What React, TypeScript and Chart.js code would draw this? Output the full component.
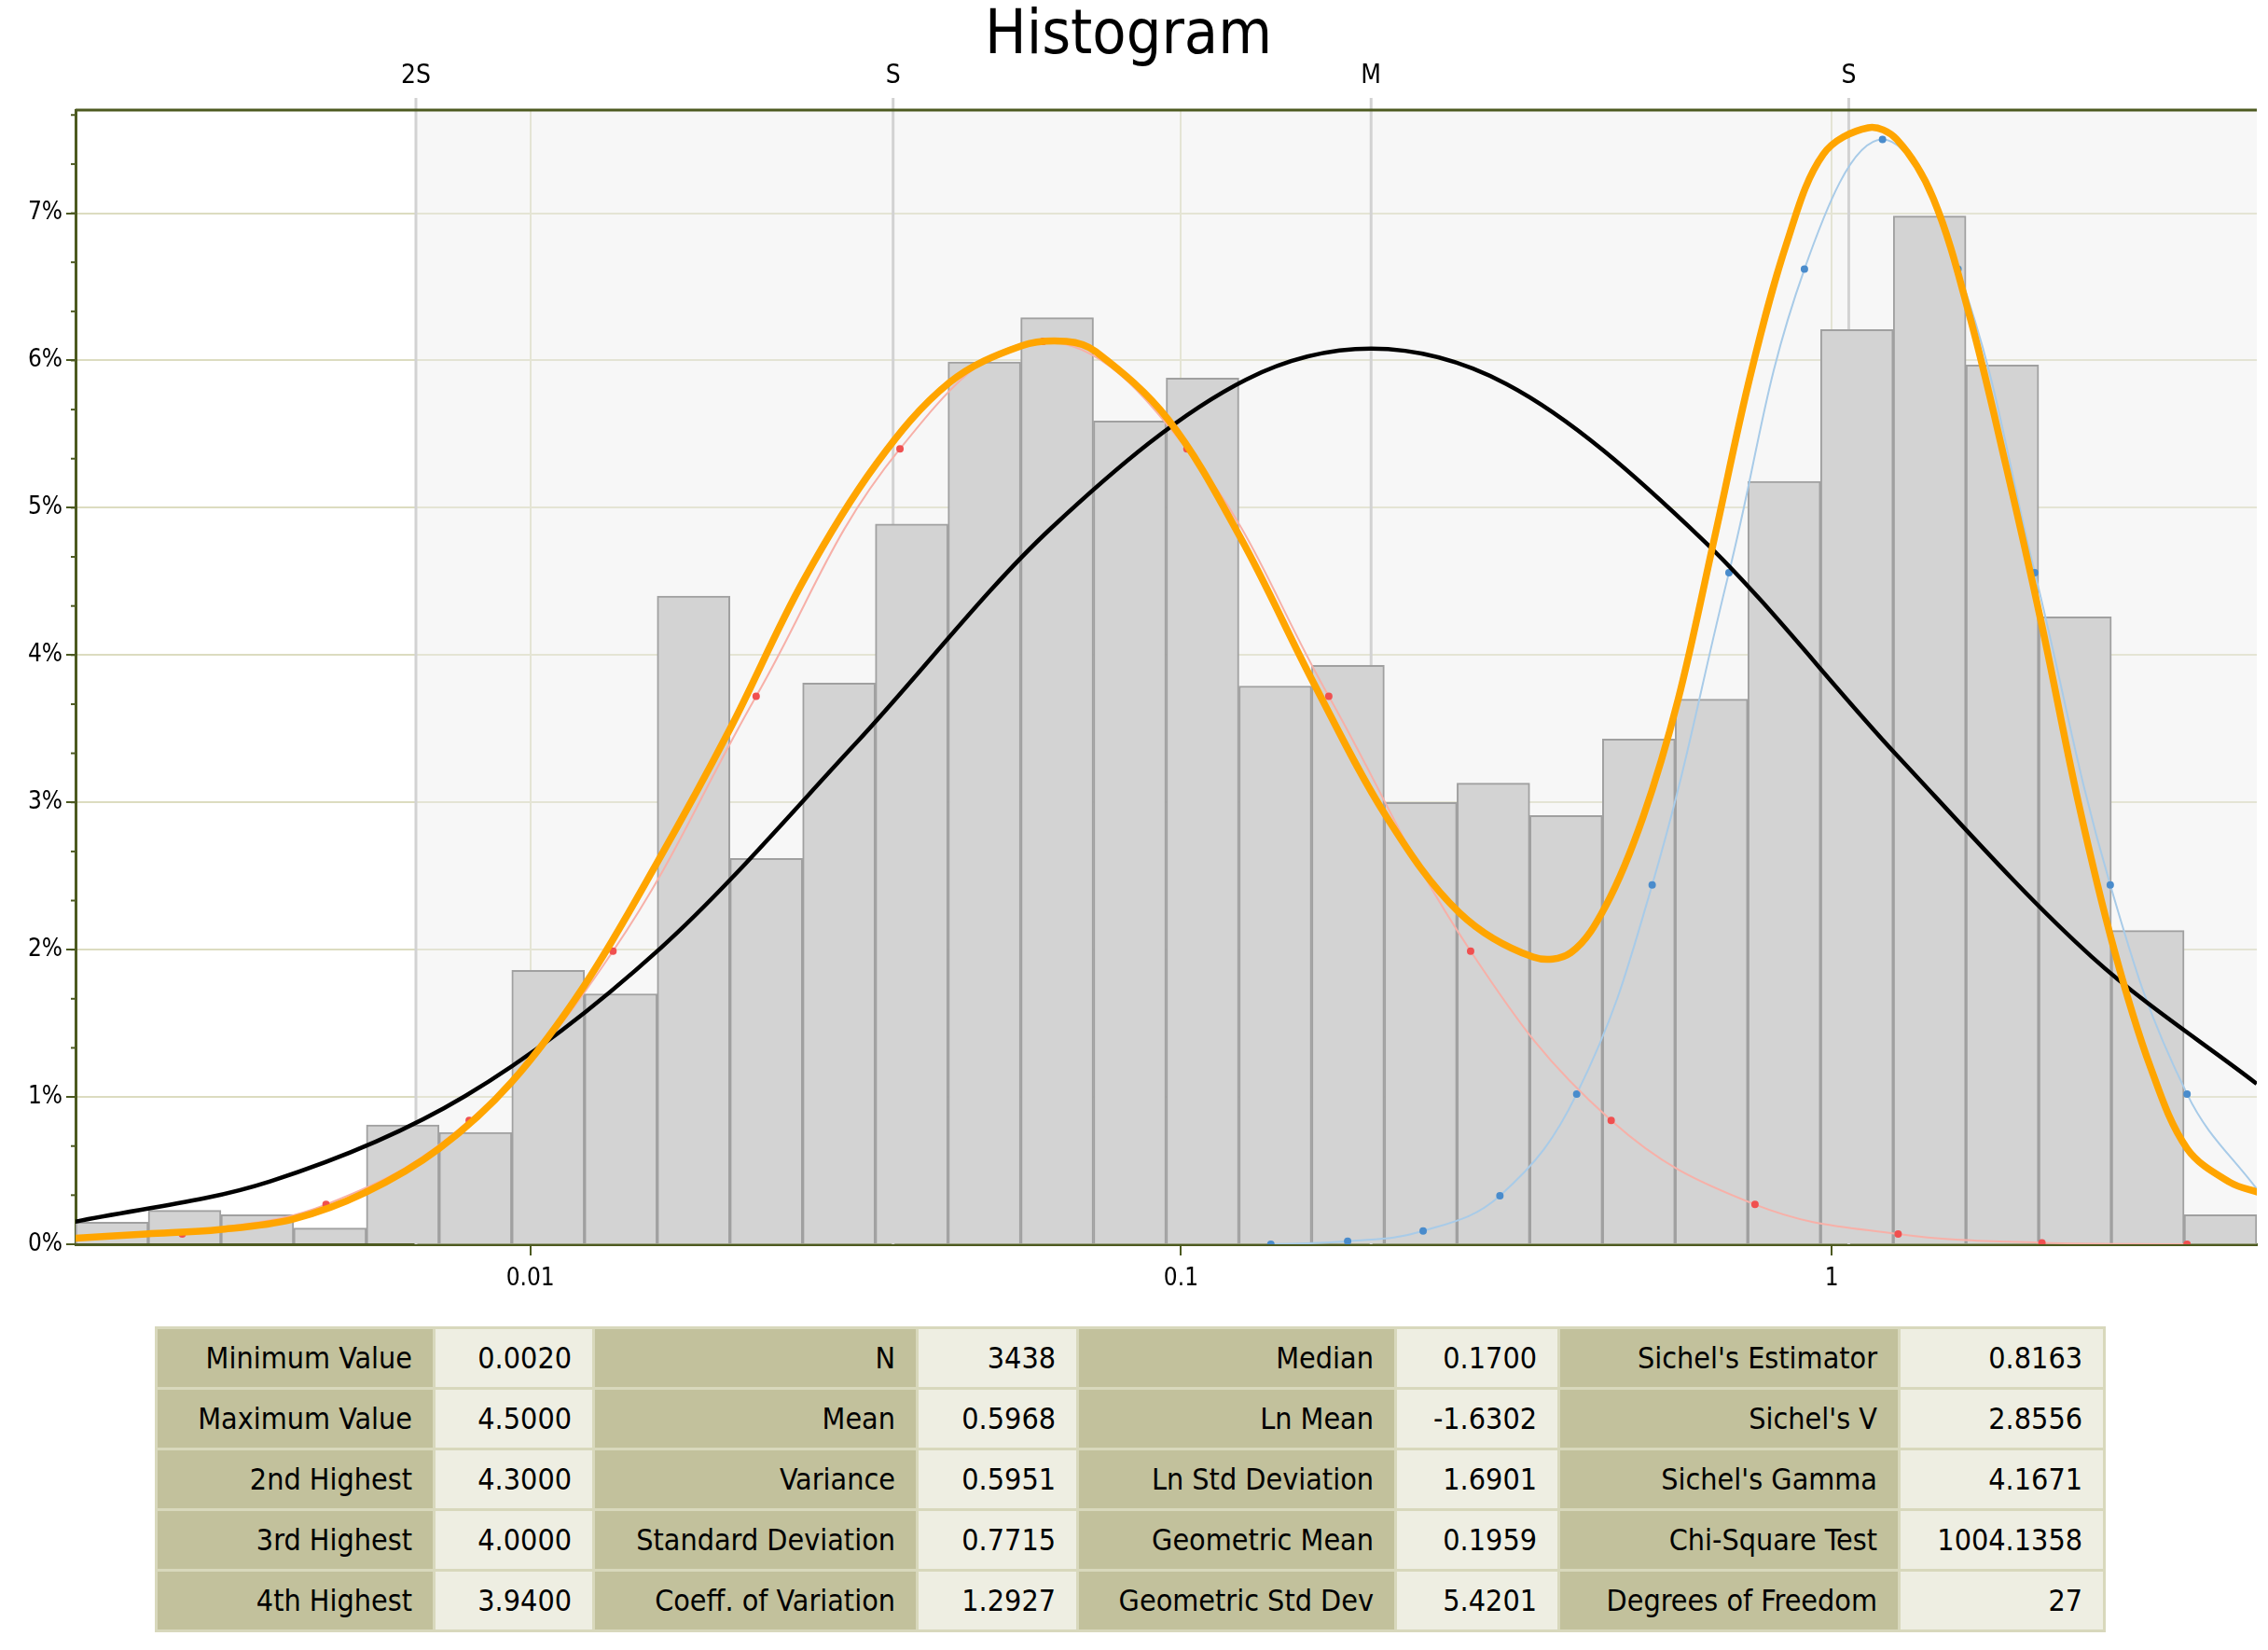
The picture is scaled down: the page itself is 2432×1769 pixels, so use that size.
import React, { useEffect, useRef } from "react";
import { Chart, registerables } from "chart.js";
Chart.register(...registerables);

const FONT = "'DejaVu Sans Condensed', 'DejaVu Sans', sans-serif";

// Histogram bins (equal width in log space), percent
const binValues = [0.15, 0.23, 0.2, 0.11, 0.81, 0.76, 1.86, 1.7, 4.4, 2.62, 3.81, 4.89, 5.99, 6.29, 5.59, 5.88, 3.79, 3.93, 3.0, 3.13, 2.91, 3.43, 3.7, 5.18, 6.21, 6.98, 5.97, 4.26, 2.13, 0.2];
const binLabels = binValues.map((_, i) => "b" + i);

// Lognormal fit (black), x as log10
const blackLog = [-2.7, -2.4, -2.1, -1.8, -1.5, -1.2, -0.9, -0.708, -0.5, -0.2, 0.1, 0.4, 0.653];
const blackVal = [0.153, 0.427, 1.007, 2.01, 3.4, 4.86, 5.87, 6.08, 5.84, 4.79, 3.32, 1.95, 1.09];

// Mixture fit (orange)
const orangeLog = [-2.702, -2.59, -2.477, -2.365, -2.254, -2.14, -2.029, -1.918, -1.804, -1.693, -1.581, -1.468, -1.356, -1.245, -1.176, -1.131, -1.02, -0.909, -0.795, -0.684, -0.572, -0.459, -0.401, -0.347, -0.29, -0.236, -0.18, -0.125, -0.069, -0.013, 0.056, 0.1, 0.156, 0.212, 0.267, 0.323, 0.379, 0.434, 0.49, 0.546, 0.612, 0.657];
const orangeVal = [0.04, 0.07, 0.1, 0.17, 0.35, 0.65, 1.1, 1.75, 2.6, 3.5, 4.5, 5.3, 5.85, 6.1, 6.13, 6.06, 5.6, 4.8, 3.8, 2.9, 2.25, 1.95, 1.98, 2.3, 2.9, 3.7, 4.8, 5.9, 6.8, 7.4, 7.58, 7.5, 7.1, 6.3, 5.3, 4.2, 3.0, 2.0, 1.2, 0.65, 0.42, 0.35];

// Component 1 (red)
const redLog = [-2.535, -2.314, -2.094, -1.873, -1.653, -1.432, -1.212, -0.991, -0.773, -0.555, -0.339, -0.118, 0.102, 0.323, 0.546];
const redVal = [0.07, 0.27, 0.84, 1.99, 3.72, 5.4, 6.13, 5.4, 3.72, 1.99, 0.84, 0.27, 0.07, 0.01, 0.0];

// Component 2 (blue)
const blueLog = [-0.862, -0.744, -0.628, -0.51, -0.392, -0.276, -0.158, -0.042, 0.078, 0.194, 0.312, 0.428, 0.546, 0.661];
const blueVal = [0.0, 0.02, 0.09, 0.33, 1.02, 2.44, 4.56, 6.62, 7.5, 6.62, 4.56, 2.44, 1.02, 0.33];

const xTicks = [0.01, 0.1, 1];
const topTickValues = [0.00667, 0.0361, 0.1959, 1.062];
const topTickLabels = ["2S", "S", "M", "S"];

const tableRows = [
  ["Minimum Value", "0.0020", "N", "3438", "Median", "0.1700", "Sichel's Estimator", "0.8163"],
  ["Maximum Value", "4.5000", "Mean", "0.5968", "Ln Mean", "-1.6302", "Sichel's V", "2.8556"],
  ["2nd Highest", "4.3000", "Variance", "0.5951", "Ln Std Deviation", "1.6901", "Sichel's Gamma", "4.1671"],
  ["3rd Highest", "4.0000", "Standard Deviation", "0.7715", "Geometric Mean", "0.1959", "Chi-Square Test", "1004.1358"],
  ["4th Highest", "3.9400", "Coeff. of Variation", "1.2927", "Geometric Std Dev", "5.4201", "Degrees of Freedom", "27"],
];
const colWidths = [298, 171, 347, 172, 341, 175, 365, 220];

const pts = (lx: number[], v: number[]) => lx.map((l, i) => ({ x: Math.pow(10, l), y: v[i] }));

const overlay = {
  id: "overlay",
  beforeDatasetsDraw(chart: any) {
    const { ctx, chartArea: a, scales } = chart;
    const x = scales.x;
    ctx.save();
    const sx = x.getPixelForValue(topTickValues[0]);
    ctx.fillStyle = "rgba(238,238,238,0.45)";
    ctx.fillRect(sx, a.top, a.right - sx, a.bottom - a.top);
    ctx.strokeStyle = "#d2d2d2";
    ctx.lineWidth = 3;
    topTickValues.forEach((v) => {
      const px = x.getPixelForValue(v);
      ctx.beginPath();
      ctx.moveTo(px, a.top - 13);
      ctx.lineTo(px, a.bottom);
      ctx.stroke();
    });
    ctx.restore();
  },
  afterDraw(chart: any) {
    const { ctx, chartArea: a, scales } = chart;
    const x = scales.x;
    const y = scales.y;
    ctx.save();
    ctx.fillStyle = "#000";
    ctx.font = `66px ${FONT}`;
    ctx.textAlign = "center";
    ctx.textBaseline = "middle";
    ctx.fillText("Histogram", 1210, 40);
    ctx.font = `28px ${FONT}`;
    topTickValues.forEach((v, i) => {
      ctx.fillText(topTickLabels[i], x.getPixelForValue(v), 82);
    });
    ctx.strokeStyle = "#4d5a20";
    ctx.lineWidth = 3;
    ctx.beginPath();
    ctx.moveTo(a.left, a.top);
    ctx.lineTo(a.right, a.top);
    ctx.stroke();
    ctx.lineWidth = 2;
    for (let v = 0; v <= 7.7; v += 1 / 3) {
      const py = y.getPixelForValue(v);
      ctx.beginPath();
      ctx.moveTo(a.left - 5, py);
      ctx.lineTo(a.left, py);
      ctx.stroke();
    }
    ctx.restore();
  },
};

export default function App() {
  const ref = useRef<HTMLCanvasElement>(null);
  useEffect(() => {
    document.body.style.margin = "0";
    const chart = new Chart(ref.current as HTMLCanvasElement, {
      type: "bar",
      data: {
        labels: binLabels,
        datasets: [
          { type: "bar", data: binValues, xAxisID: "xb", backgroundColor: "#d3d3d3", borderColor: "#a0a0a0", borderWidth: 2, barPercentage: 1, categoryPercentage: 1, grouped: false, order: 5 } as any,
          { type: "line", data: pts(redLog, redVal), xAxisID: "x", borderColor: "#f7b0a8", borderWidth: 2, pointRadius: 3, pointBackgroundColor: "#f05050", pointBorderColor: "#f05050", tension: 0.4, order: 3 } as any,
          { type: "line", data: pts(blueLog, blueVal), xAxisID: "x", borderColor: "#a8cbe8", borderWidth: 2, pointRadius: 3, pointBackgroundColor: "#4a8ccc", pointBorderColor: "#4a8ccc", tension: 0.4, order: 3 } as any,
          { type: "line", data: pts(blackLog, blackVal), xAxisID: "x", borderColor: "#000", borderWidth: 4.5, pointRadius: 0, cubicInterpolationMode: "monotone", order: 2 } as any,
          { type: "line", data: pts(orangeLog, orangeVal), xAxisID: "x", borderColor: "#ffa500", borderWidth: 7.5, pointRadius: 0, tension: 0.35, order: 1 } as any,
        ],
      },
      options: {
        responsive: false,
        animation: false,
        devicePixelRatio: 1,
        layout: { padding: { top: 118, right: 12, left: 0, bottom: 0 } },
        plugins: { legend: { display: false }, tooltip: { enabled: false } },
        scales: {
          xb: { type: "category", display: false, offset: true },
          x: {
            type: "logarithmic",
            position: "bottom",
            offset: false,
            min: 0.002,
            max: 4.5,
            afterBuildTicks: (s: any) => { s.ticks = xTicks.map((v) => ({ value: v })); },
            afterFit: (s: any) => { s.height = 76; },
            ticks: { color: "#000", font: { family: FONT, size: 26 }, padding: 10, callback: (v: any) => String(v), maxRotation: 0, autoSkip: false },
            grid: { offset: false, color: "#dcdcc0", lineWidth: 2, tickLength: 12, tickColor: "#4d5a20" },
            border: { color: "#4d5a20", width: 3 },
          },
          y: {
            min: 0,
            max: 7.7,
            afterBuildTicks: (s: any) => { s.ticks = [0, 1, 2, 3, 4, 5, 6, 7].map((v) => ({ value: v })); },
            afterFit: (s: any) => { s.width = 81; },
            ticks: { color: "#000", font: { family: FONT, size: 26 }, padding: 4, callback: (v: any) => v + "%" },
            grid: { color: "#dcdcc0", lineWidth: 2, tickLength: 10, tickColor: "#4d5a20" },
            border: { color: "#4d5a20", width: 3 },
          },
        },
      } as any,
      plugins: [overlay],
    });
    return () => chart.destroy();
  }, []);

  return (
    <div style={{ position: "relative", width: 2432, height: 1769, background: "#fff" }}>
      <canvas ref={ref} width={2432} height={1410} style={{ position: "absolute", left: 0, top: 0 }} />
      <table style={{ position: "absolute", left: 166, top: 1422, borderCollapse: "separate", borderSpacing: 3, background: "#d8d8bc", fontFamily: FONT, fontSize: 32, color: "#000" }}>
        <tbody>
          {tableRows.map((r, i) => (
            <tr key={i}>
              {r.map((c, j) => (
                <td key={j} style={{ width: colWidths[j] - 3, height: 62, padding: "0 22px", boxSizing: "border-box", textAlign: "right", background: j % 2 === 0 ? "#c2c19c" : "#eeeee2", whiteSpace: "nowrap" }}>{c}</td>
              ))}
            </tr>
          ))}
        </tbody>
      </table>
    </div>
  );
}
